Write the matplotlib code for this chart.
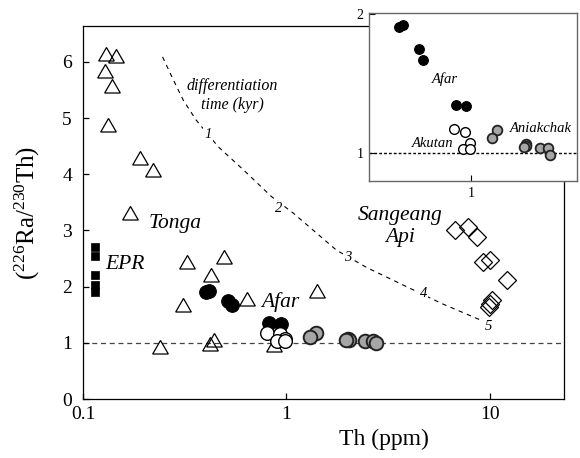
import numpy as np
import matplotlib
matplotlib.use("Agg")
import matplotlib.pyplot as plt

plt.rcParams['font.family'] = ['Liberation Serif', 'DejaVu Serif']
plt.rcParams['mathtext.fontset'] = 'custom'
plt.rcParams['mathtext.rm'] = 'Liberation Serif'
plt.rcParams['mathtext.it'] = 'Liberation Serif:italic'

# Tonga (open triangles)
tonga_th = [0.130, 0.146, 0.128, 0.139, 0.132, 0.191, 0.221, 0.170, 0.326,
            0.495, 0.428, 0.310, 0.640, 0.239, 0.419, 0.439, 0.867, 1.42]
tonga_ra = [6.11, 6.07, 5.80, 5.54, 4.84, 4.25, 4.04, 3.27, 2.41,
            2.50, 2.17, 1.64, 1.74, 0.89, 0.95, 1.02, 0.93, 1.88]
# EPR (black squares)
epr_th = [0.114, 0.115, 0.114, 0.115, 0.115]
epr_ra = [2.70, 2.55, 2.20, 2.03, 1.90]
# Afar (black circles)
afar_th = [0.400, 0.417, 0.514, 0.539, 0.822, 0.938]
afar_ra = [1.905, 1.924, 1.746, 1.668, 1.347, 1.340]
# Akutan (open circles)
akutan_th = [0.804, 0.930, 0.987, 0.899, 0.987]
akutan_ra = [1.173, 1.152, 1.073, 1.028, 1.028]
# Aniakchak (grey circles)
aniak_th = [1.389, 1.303, 2.01, 2.03, 1.97, 2.42, 2.67, 2.75]
aniak_ra = [1.169, 1.109, 1.064, 1.055, 1.045, 1.037, 1.037, 0.99]
# Sangeang Api (open diamonds)
sangeang_th = [6.73, 7.82, 8.60, 9.27, 10.0, 12.1, 10.2, 10.0, 9.9]
sangeang_ra = [3.01, 3.06, 2.88, 2.44, 2.47, 2.11, 1.76, 1.69, 1.63]
# differentiation time curve
curve_th = [0.246, 0.278, 0.311, 0.359, 0.462, 0.614, 0.846, 1.079, 1.76, 2.48, 5.79, 8.93]
curve_ra = [6.09, 5.68, 5.32, 4.97, 4.49, 4.08, 3.60, 3.31, 2.65, 2.34, 1.70, 1.41]
curve_lab = ['1', '2', '3', '4', '5']
curve_lab_th = [0.413, 0.912, 2.01, 4.70, 9.8]
curve_lab_ra = [4.70, 3.39, 2.52, 1.88, 1.29]


def draw_points(ax, ms, grey_lw):
    ax.plot(afar_th, afar_ra, 'o', ms=ms, mfc='black', mec='black', mew=0.8, zorder=4)
    ax.plot(akutan_th, akutan_ra, 'o', ms=ms, mfc='white', mec='black', mew=1.0, zorder=5)
    ax.plot(aniak_th, aniak_ra, 'o', ms=ms, mfc='#a6a6a6', mec='#222222', mew=grey_lw, zorder=5)


fig = plt.figure(figsize=(5.8, 4.58), dpi=100)
ax = fig.add_axes([0.1431, 0.1288, 0.8293, 0.8144])
ax.set_xscale('log')
ax.set_xlim(0.1, 23.1)
ax.set_ylim(0, 6.64)

ax.axhline(1, ls=(0, (4, 3)), color='#444444', lw=0.9, zorder=1)
ax.plot(curve_th, curve_ra, ls=(0, (4, 4)), color='black', lw=0.8, zorder=2)
for s, x, y in zip(curve_lab, curve_lab_th, curve_lab_ra):
    ax.text(x, y, s, style='italic', fontsize=10.5, ha='center', va='center', zorder=3,
            bbox=dict(fc='white', ec='none', pad=1.0))

ax.plot(tonga_th, tonga_ra, ls='none', marker=(3, 0, 0), ms=13, mfc='none', mec='black', mew=0.9, zorder=3)
ax.plot(epr_th, epr_ra, 's', ms=5.8, mfc='black', mec='black', mew=0.5, zorder=3)
draw_points(ax, 9.8, 1.4)
ax.plot(sangeang_th, sangeang_ra, 'D', ms=8.8, mfc='none', mec='black', mew=0.9, zorder=3)

lab = dict(style='italic', fontsize=15.5, ha='center', va='center')
ax.text(0.283, 3.13, 'Tonga', **lab)
ax.text(0.161, 2.39, 'EPR', **lab)
ax.text(0.929, 1.73, 'Afar', **lab)
ax.text(3.63, 3.07, 'Sangeang\nApi', linespacing=1.25, **lab)
ax.text(0.543, 5.40, 'differentiation\ntime (kyr)', style='italic', fontsize=11.5,
        ha='center', va='center', linespacing=1.2)

ax.set_xticks([0.1, 1, 10])
ax.set_xticklabels(['0.1', '1', '10'])
ax.xaxis.set_minor_locator(matplotlib.ticker.NullLocator())
ax.set_yticks(range(7))
ax.tick_params(direction='in', length=4.5, width=0.9, labelsize=14)
ax.tick_params(axis='x', pad=5)
ax.tick_params(axis='y', pad=8)
for sp in ax.spines.values():
    sp.set_linewidth(0.9)

ax.set_xlabel('Th (ppm)', fontsize=17)
ax.xaxis.set_label_coords(0.625, -0.08)
ax.set_ylabel(r'$(^{226}\mathrm{Ra}/^{230}\mathrm{Th})$', fontsize=18)
ax.yaxis.set_label_coords(-0.085, 0.5)

# inset
ins = fig.add_axes([0.6362, 0.6048, 0.3586, 0.3675])
ins.set_zorder(10)
ins.set_facecolor('white')
ins.set_xscale('log')
ins.set_xlim(0.271, 3.88)
ins.set_ylim(0.8, 2.01)
ins.axhline(1, ls=(0, (2, 1.5)), color='black', lw=1.0, zorder=1)
draw_points(ins, 7.0, 1.3)
ins.text(0.717, 1.532, 'Afar', style='italic', fontsize=10.5, ha='center', va='center')
ins.text(0.613, 1.073, 'Akutan', style='italic', fontsize=10.5, ha='center', va='center')
ins.text(2.44, 1.18, 'Aniakchak', style='italic', fontsize=10.5, ha='center', va='center')
ins.set_xticks([1])
ins.set_xticklabels(['1'])
ins.xaxis.set_minor_locator(matplotlib.ticker.NullLocator())
ins.set_yticks([1, 2])
ins.tick_params(direction='in', length=4, width=0.8, labelsize=10, pad=4)
for sp in ins.spines.values():
    sp.set_linewidth(1.0)
    sp.set_color('#666666')

fig.savefig('out.png', dpi=100)
